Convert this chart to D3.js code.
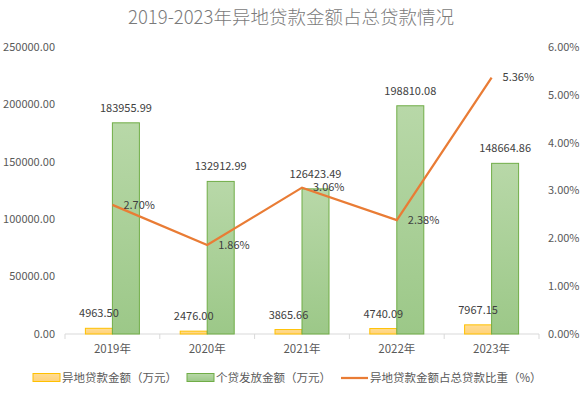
<!DOCTYPE html>
<html>
<head>
<meta charset="utf-8">
<script src="https://cdn.jsdelivr.net/npm/d3@7"></script>
<style>
  body { margin: 0; background: #fff; }
  text { font-family: "Noto Sans CJK SC", "Noto Sans", sans-serif; }
</style>
</head>
<body>
<svg id="chart" width="584" height="394"></svg>
<script>
const years = ['2019年', '2020年', '2021年', '2022年', '2023年'];
const remoteLoans = [4963.50, 2476.00, 3865.66, 4740.09, 7967.15];
const personalLoans = [183955.99, 132912.99, 126423.49, 198810.08, 148664.86];
const remoteRatio = [2.70, 1.86, 3.06, 2.38, 5.36];
const leftTicks = [0, 50000, 100000, 150000, 200000, 250000];
const rightTicks = [0, 1, 2, 3, 4, 5, 6];
const seriesNames = ['异地贷款金额（万元）', '个贷发放金额（万元）', '异地贷款金额占总贷款比重（%）'];

const svg = d3.select('#chart');
const margin = {top: 47, right: 45, bottom: 60, left: 65};
const width = 584 - margin.left - margin.right;
const height = 394 - margin.top - margin.bottom;

const defs = svg.append('defs');
const gradGreen = defs.append('linearGradient').attr('id', 'gGreen').attr('x1', 0).attr('y1', 0).attr('x2', 0).attr('y2', 1);
gradGreen.append('stop').attr('offset', '0%').attr('stop-color', '#b8d8a8');
gradGreen.append('stop').attr('offset', '100%').attr('stop-color', '#9cc888');
const gradYellow = defs.append('linearGradient').attr('id', 'gYellow').attr('x1', 0).attr('y1', 0).attr('x2', 0).attr('y2', 1);
gradYellow.append('stop').attr('offset', '0%').attr('stop-color', '#ffdc94');
gradYellow.append('stop').attr('offset', '100%').attr('stop-color', '#ffd27a');

svg.append('text')
    .attr('x', 291).attr('y', 24)
    .attr('text-anchor', 'middle')
    .attr('fill', '#7a7a7a')
    .style('font-size', '18.5px')
    .style('font-weight', 300)
    .text('2019-2023年异地贷款金额占总贷款情况');

const g = svg.append('g').attr('transform', 'translate(' + margin.left + ',' + margin.top + ')');

const x = d3.scaleBand().domain(years).range([0, width]).padding(0);
const y = d3.scaleLinear().domain([0, 250000]).range([height, 0]);
const y2 = d3.scaleLinear().domain([0, 6]).range([height, 0]);
const barW = 27;

// left axis labels
g.append('g').selectAll('text').data(leftTicks).join('text')
    .attr('x', -10).attr('y', d => y(d)).attr('dy', '0.35em')
    .attr('text-anchor', 'end').attr('fill', '#595959')
    .style('font-size', '11px')
    .text(d => d.toFixed(2));

// right axis labels
g.append('g').selectAll('text').data(rightTicks).join('text')
    .attr('x', width + 9).attr('y', d => y2(d)).attr('dy', '0.35em')
    .attr('text-anchor', 'start').attr('fill', '#595959')
    .style('font-size', '11px')
    .text(d => d.toFixed(2) + '%');

// x axis
const xAxis = g.append('g').attr('transform', 'translate(0,' + height + ')');
xAxis.append('line').attr('x1', 0).attr('x2', width).attr('stroke', '#d9d9d9');
xAxis.selectAll('.tk').data(d3.range(years.length + 1)).join('line')
    .attr('class', 'tk')
    .attr('x1', i => i * x.step()).attr('x2', i => i * x.step())
    .attr('y1', 0).attr('y2', 5).attr('stroke', '#d9d9d9');
xAxis.selectAll('.lbl').data(years).join('text')
    .attr('class', 'lbl')
    .attr('x', d => x(d) + x.bandwidth() / 2).attr('y', 19)
    .attr('text-anchor', 'middle').attr('fill', '#595959')
    .style('font-size', '11.5px')
    .text(d => d);

// bars
g.selectAll('.bar-r').data(remoteLoans).join('rect')
    .attr('class', 'bar-r')
    .attr('x', (d, i) => x(years[i]) + x.bandwidth() / 2 - barW)
    .attr('y', d => y(d)).attr('width', barW).attr('height', d => height - y(d))
    .attr('fill', 'url(#gYellow)').attr('stroke', '#ffc000').attr('stroke-width', 1);
g.selectAll('.bar-p').data(personalLoans).join('rect')
    .attr('class', 'bar-p')
    .attr('x', (d, i) => x(years[i]) + x.bandwidth() / 2)
    .attr('y', d => y(d)).attr('width', barW).attr('height', d => height - y(d))
    .attr('fill', 'url(#gGreen)').attr('stroke', '#70ad47').attr('stroke-width', 1);

// bar labels
g.selectAll('.lab-r').data(remoteLoans).join('text')
    .attr('class', 'lab-r')
    .attr('x', (d, i) => x(years[i]) + x.bandwidth() / 2 - barW / 2)
    .attr('y', d => y(d) - 11)
    .attr('text-anchor', 'middle').attr('fill', '#404040')
    .style('font-size', '11px')
    .text(d => d.toFixed(2));
g.selectAll('.lab-p').data(personalLoans).join('text')
    .attr('class', 'lab-p')
    .attr('x', (d, i) => x(years[i]) + x.bandwidth() / 2 + barW / 2)
    .attr('y', d => y(d) - 11)
    .attr('text-anchor', 'middle').attr('fill', '#404040')
    .style('font-size', '11px')
    .text(d => d.toFixed(2));

// line
const line = d3.line()
    .x((d, i) => x(years[i]) + x.bandwidth() / 2)
    .y(d => y2(d));
g.append('path').datum(remoteRatio)
    .attr('d', line).attr('fill', 'none')
    .attr('stroke', '#e97c35').attr('stroke-width', 2.25);
g.selectAll('.lab-l').data(remoteRatio).join('text')
    .attr('class', 'lab-l')
    .attr('x', (d, i) => x(years[i]) + x.bandwidth() / 2 + 11)
    .attr('y', d => y2(d)).attr('dy', '0.35em')
    .attr('fill', '#404040')
    .style('font-size', '11px')
    .text(d => d.toFixed(2) + '%');

// legend
const legend = svg.append('g').attr('transform', 'translate(0,378)');
const items = [
  {x: 33, name: seriesNames[0], type: 'rect', fill: 'url(#gYellow)', stroke: '#ffc000'},
  {x: 187, name: seriesNames[1], type: 'rect', fill: 'url(#gGreen)', stroke: '#70ad47'},
  {x: 341, name: seriesNames[2], type: 'line', stroke: '#e97c35'}
];
items.forEach(it => {
  if (it.type === 'rect') {
    legend.append('rect').attr('x', it.x).attr('y', -4.5).attr('width', 27).attr('height', 8)
        .attr('fill', it.fill).attr('stroke', it.stroke);
  } else {
    legend.append('line').attr('x1', it.x).attr('x2', it.x + 27).attr('y1', 0).attr('y2', 0)
        .attr('stroke', it.stroke).attr('stroke-width', 2.25);
  }
  legend.append('text').attr('x', it.x + 29).attr('y', 0).attr('dy', '0.35em')
      .attr('fill', '#595959').style('font-size', '11.5px').text(it.name);
});
</script>
</body>
</html>
